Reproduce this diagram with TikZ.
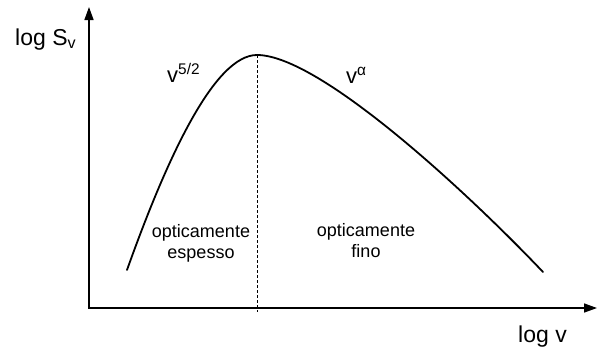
\documentclass[tikz,border=0pt]{standalone}
\usepackage{fontspec}
\setmainfont{Liberation Sans}
\usetikzlibrary{arrows.meta,positioning}

\begin{document}
\begin{tikzpicture}[x=1pt,y=-1pt]
	\useasboundingbox (0,0) rectangle (597,349);

	\tikzstyle{axis}=[line width=1.5pt,-{Triangle[length=13pt,width=9pt]}]
	\tikzstyle{axis label}=[inner sep=0pt,anchor=base west,font=\fontsize{23}{26}\selectfont]
	\tikzstyle{law label}=[inner sep=0pt,anchor=base west,font=\fontsize{22}{24}\selectfont]
	\tikzstyle{region text}=[inner sep=0pt,align=center,font=\fontsize{18}{21}\selectfont]

	% Draw the axes.
	\coordinate (origin) at (89,308);
	\coordinate (ytip) at (89,7);
	\coordinate (xtip) at (597,308);
	\draw [axis] (origin) -- (ytip);
	\draw [axis] ([xshift=-0.75pt]origin) -- (xtip);

	\node [axis label] (ylabel) at (15,45) {log S\textsubscript{v}};
	\node [axis label] (xlabel) at (518,342) {log v};

	% Peak of the spectrum and the turnover line.
	\coordinate (start) at (127,270);
	\coordinate (peak) at (257,55);
	\coordinate (end) at (543,272);
	\coordinate (peakfoot) at (257,312);
	\draw [line width=0.8pt, dash pattern=on 3pt off 2pt] (peak) -- (peakfoot);

	% The spectrum itself.
	\draw [line width=1.8pt, line cap=round] (start)
		.. controls (168,155) and (215,55) .. (peak)
		.. controls (320,55) and (470,195) .. (end);

	\node [law label] (thick law) at (167,82) {v\textsuperscript{5/2}};
	\node [law label] (thin law) at (346,83) {v\textsuperscript{α}};

	\node [region text] (thick) at (201,243) {opticamente\\espesso};
	\node [region text] (thin) at (366,241) {opticamente\\fino};
\end{tikzpicture}
\end{document}
